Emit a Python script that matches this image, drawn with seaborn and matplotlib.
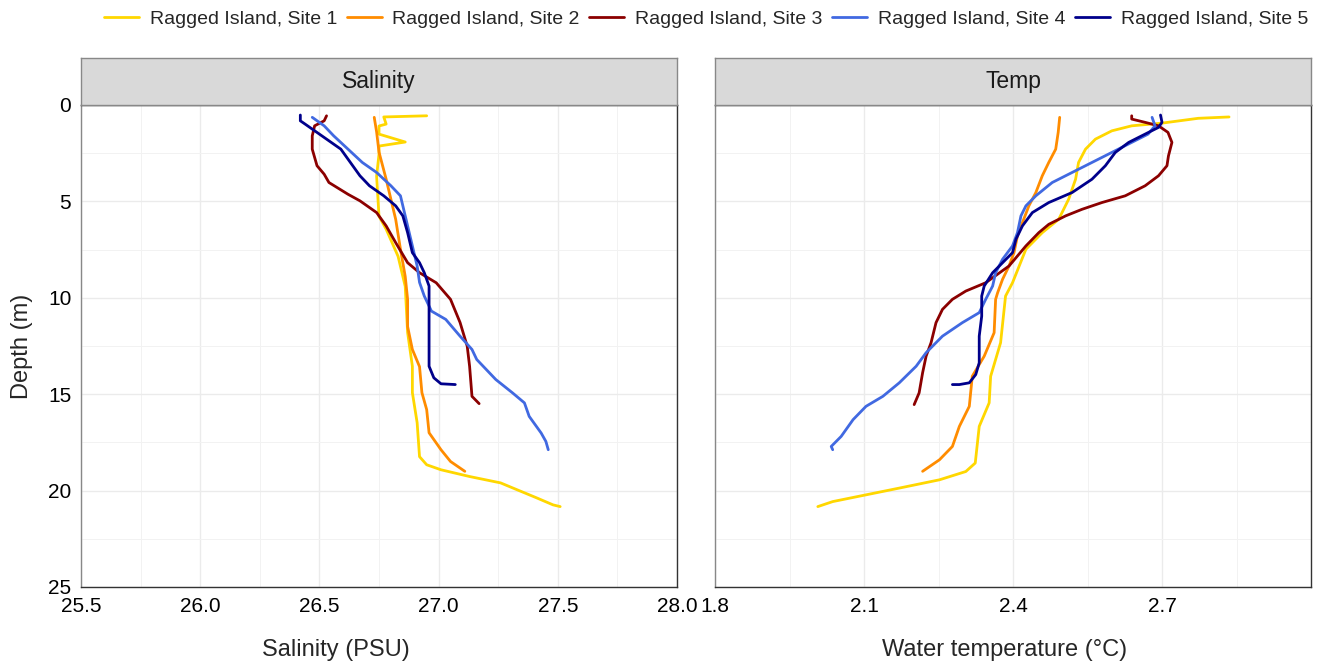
"""
CTD profiles, Ragged Island: salinity and water temperature against depth
"""

import matplotlib.pyplot as plt
import pandas as pd
import seaborn as sns

SITES = [f"Ragged Island, Site {k}" for k in range(1, 6)]
COLOURS = ["#FFD700", "#FF8C00", "#8B0000", "#4169E1", "#00008B"]

# salinity profiles (depth in m, salinity in PSU)
sal_depth_1 = [0.56, 0.62, 0.99, 1.09, 1.51, 1.92, 2.13, 2.55, 3.69, 5.77, 6.44, 7.85,
               9.41, 11.8, 13.55, 14.92, 16.48, 18.24, 18.66, 18.92, 19.27, 19.6,
               19.96, 20.37, 20.74, 20.83]
sal_1 = [26.95, 26.77, 26.78, 26.75, 26.75, 26.86, 26.75, 26.75, 26.74, 26.75, 26.78,
         26.83, 26.86, 26.87, 26.89, 26.89, 26.91, 26.92, 26.95, 27.01, 27.13, 27.26,
         27.33, 27.41, 27.48, 27.51]
sal_depth_2 = [0.64, 1.4, 2.44, 3.85, 4.89, 5.93, 7.48, 8.89, 10.08, 11.49, 12.68,
               13.57, 14.92, 15.8, 17.0, 17.88, 18.49, 19.0]
sal_2 = [26.73, 26.74, 26.75, 26.78, 26.8, 26.82, 26.84, 26.86, 26.87, 26.87, 26.89,
         26.92, 26.93, 26.95, 26.96, 27.01, 27.05, 27.11]
sal_depth_3 = [0.56, 0.82, 1.08, 1.6, 2.29, 3.15, 3.59, 4.02, 4.63, 4.97, 5.58, 6.27,
               7.14, 8.18, 8.7, 9.22, 10.08, 11.28, 12.51, 13.55, 15.11, 15.49]
sal_3 = [26.53, 26.52, 26.48, 26.47, 26.47, 26.49, 26.52, 26.54, 26.62, 26.67, 26.74,
         26.78, 26.82, 26.87, 26.92, 26.99, 27.05, 27.09, 27.12, 27.13, 27.14, 27.17]
sal_depth_4 = [0.64, 1.08, 1.6, 2.29, 2.98, 3.5, 4.19, 4.71, 5.23, 6.27, 7.31, 8.35,
               9.2, 9.91, 10.69, 11.12, 11.99, 12.68, 13.2, 14.24, 14.93, 15.45, 16.15,
               17.01, 17.45, 17.88]
sal_4 = [26.47, 26.52, 26.56, 26.62, 26.68, 26.74, 26.8, 26.84, 26.85, 26.87, 26.89,
         26.91, 26.92, 26.94, 26.97, 27.03, 27.09, 27.14, 27.16, 27.24, 27.31, 27.36,
         27.38, 27.43, 27.45, 27.46]
sal_depth_5 = [0.52, 0.82, 0.99, 1.25, 1.77, 2.29, 2.98, 3.67, 4.19, 4.71, 5.23, 5.75,
               6.62, 7.66, 8.18, 8.7, 9.39, 10.6, 11.81, 13.55, 14.15, 14.46, 14.5]
sal_5 = [26.42, 26.42, 26.44, 26.47, 26.53, 26.59, 26.63, 26.67, 26.71, 26.77, 26.82,
         26.85, 26.87, 26.89, 26.92, 26.94, 26.96, 26.96, 26.96, 26.96, 26.98, 27.01,
         27.07]

# temperature profiles (depth in m, temperature in degrees C)
tmp_depth_1 = [0.62, 0.69, 0.94, 1.08, 1.34, 1.77, 2.29, 2.98, 3.85, 4.89, 5.93, 6.62,
               7.48, 9.22, 9.91, 12.33, 14.07, 15.45, 16.67, 18.57, 19.01, 19.44, 19.87,
               20.22, 20.57, 20.83]
tmp_1 = [2.835, 2.773, 2.7, 2.639, 2.599, 2.566, 2.546, 2.532, 2.526, 2.512, 2.492,
         2.459, 2.426, 2.399, 2.385, 2.375, 2.355, 2.352, 2.332, 2.324, 2.305, 2.252,
         2.171, 2.104, 2.037, 2.007]
tmp_depth_2 = [0.64, 1.42, 2.29, 2.98, 3.67, 4.54, 5.23, 6.1, 6.79, 7.66, 8.35, 9.04,
               9.74, 10.08, 11.81, 13.03, 14.07, 15.63, 16.67, 17.71, 18.4, 19.0]
tmp_2 = [2.494, 2.491, 2.486, 2.472, 2.459, 2.446, 2.432, 2.419, 2.409, 2.402, 2.392,
         2.379, 2.369, 2.365, 2.362, 2.342, 2.318, 2.312, 2.292, 2.278, 2.252, 2.218]
tmp_depth_3 = [0.56, 0.73, 0.9, 1.08, 1.42, 1.94, 2.64, 3.15, 3.67, 4.19, 4.71, 5.06,
               5.41, 5.75, 6.19, 6.62, 7.31, 8.35, 9.22, 9.65, 10.08, 10.6, 11.29,
               12.33, 13.03, 13.89, 14.93, 15.54]
tmp_3 = [2.639, 2.639, 2.666, 2.693, 2.712, 2.72, 2.713, 2.71, 2.693, 2.666, 2.626,
         2.579, 2.539, 2.506, 2.472, 2.452, 2.426, 2.392, 2.345, 2.305, 2.278, 2.258,
         2.245, 2.235, 2.225, 2.218, 2.211, 2.201]
tmp_depth_4 = [0.64, 1.08, 1.51, 1.94, 2.46, 2.98, 3.5, 4.02, 4.71, 5.23, 5.75, 6.62,
               7.31, 8.0, 8.7, 9.39, 10.08, 10.77, 11.29, 11.99, 12.85, 13.55, 14.41,
               15.11, 15.63, 16.32, 17.19, 17.45, 17.71, 17.88]
tmp_4 = [2.68, 2.686, 2.672, 2.639, 2.599, 2.559, 2.519, 2.479, 2.446, 2.426, 2.416,
         2.409, 2.399, 2.379, 2.365, 2.359, 2.345, 2.332, 2.298, 2.258, 2.225, 2.205,
         2.171, 2.138, 2.104, 2.078, 2.054, 2.044, 2.034, 2.037]
tmp_depth_5 = [0.52, 0.9, 1.16, 1.51, 1.94, 2.46, 3.15, 3.85, 4.54, 5.06, 5.58, 6.27,
               6.96, 7.66, 8.18, 8.7, 9.39, 9.91, 10.95, 11.99, 13.37, 13.98, 14.41,
               14.5, 14.5]
tmp_5 = [2.697, 2.7, 2.693, 2.666, 2.633, 2.606, 2.586, 2.559, 2.519, 2.472, 2.439,
         2.419, 2.406, 2.399, 2.379, 2.359, 2.342, 2.337, 2.337, 2.332, 2.332, 2.325,
         2.312, 2.292, 2.278]

sal_depths = [sal_depth_1, sal_depth_2, sal_depth_3, sal_depth_4, sal_depth_5]
sal_values = [sal_1, sal_2, sal_3, sal_4, sal_5]
tmp_depths = [tmp_depth_1, tmp_depth_2, tmp_depth_3, tmp_depth_4, tmp_depth_5]
tmp_values = [tmp_1, tmp_2, tmp_3, tmp_4, tmp_5]


def long_frame(depths, values):
    frames = []
    for site, d, v in zip(SITES, depths, values):
        frames.append(pd.DataFrame({"site": site, "depth": d, "value": v}))
    return pd.concat(frames, ignore_index=True)


sal_df = long_frame(sal_depths, sal_values)
tmp_df = long_frame(tmp_depths, tmp_values)

sns.set_style("white")
plt.rcParams["font.family"] = ["Liberation Sans", "DejaVu Sans"]

fig = plt.figure(figsize=(13.2, 6.64), dpi=100)
W, H = 1320, 664
panel_top, panel_bottom = 105, 587
panels = [(81, 677), (715, 1311)]
axes = []
for x0, x1 in panels:
    axes.append(
        fig.add_axes([x0 / W, 1 - panel_bottom / H, (x1 - x0) / W,
                      (panel_bottom - panel_top) / H])
    )

palette = dict(zip(SITES, COLOURS))
for ax, df in zip(axes, [sal_df, tmp_df]):
    sns.lineplot(
        data=df, x="value", y="depth", hue="site", palette=palette,
        hue_order=SITES, sort=False, estimator=None, units="site",
        linewidth=2.0, ax=ax, legend=False,
    )

ax_s, ax_t = axes
ax_s.set_xlim(25.5, 28.0)
ax_s.set_xticks([25.5, 26.0, 26.5, 27.0, 27.5, 28.0])
ax_s.set_xticks([25.75, 26.25, 26.75, 27.25, 27.75], minor=True)
ax_s.set_xticklabels(["25.5", "26.0", "26.5", "27.0", "27.5", "28.0"])
ax_t.set_xlim(1.8, 3.0)
ax_t.set_xticks([1.8, 2.1, 2.4, 2.7])
ax_t.set_xticks([1.95, 2.25, 2.55, 2.85], minor=True)
ax_t.set_xticklabels(["1.8", "2.1", "2.4", "2.7"])

for ax in axes:
    ax.set_ylim(25, 0)
    ax.set_yticks([0, 5, 10, 15, 20, 25])
    ax.set_yticks([2.5, 7.5, 12.5, 17.5, 22.5], minor=True)
    ax.grid(True, which="major", color="#EBEBEB", linewidth=1.0)
    ax.grid(True, which="minor", color="#F2F2F2", linewidth=0.7)
    ax.set_axisbelow(True)
    ax.set_xlabel("")
    ax.set_ylabel("")
    ax.tick_params(which="major", length=4, width=1, color="#888888",
                   labelsize=15, labelcolor="black", pad=3)
    ax.tick_params(which="minor", length=0)
    for sp in ax.spines.values():
        sp.set_visible(True)
        sp.set_linewidth(1)
        sp.set_color("#333333")
    ax.spines["left"].set_color("#888888")

ax_t.tick_params(axis="y", left=False, labelleft=False)

# facet strips
for (x0, x1), label in zip(panels, ["Salinity", "Temp"]):
    strip = fig.add_axes([x0 / W, 1 - panel_top / H, (x1 - x0) / W, 47 / H])
    strip.set_facecolor("#D9D9D9")
    strip.set_xticks([])
    strip.set_yticks([])
    for sp in strip.spines.values():
        sp.set_color("#888888")
        sp.set_linewidth(1)
    strip.text(0.5, 0.5, label, ha="center", va="center", fontsize=16.5,
               color="#1A1A1A", transform=strip.transAxes)

fig.text(336 / W, 1 - 650 / H, "Salinity (PSU)", ha="center", va="center",
         fontsize=17)
fig.text(1005 / W, 1 - 650 / H, "Water temperature (\u00b0C)", ha="center",
         va="center", fontsize=17)
fig.text(22 / W, 1 - 346 / H, "Depth (m)", ha="center", va="center",
         rotation=90, fontsize=17)

handles = [plt.Line2D([], [], color=c, linewidth=2.0) for c in COLOURS]
fig.legend(
    handles, SITES, loc="center", bbox_to_anchor=(706 / W, 1 - 19 / H), ncol=5,
    frameon=False, fontsize=14, handlelength=1.8, handletextpad=0.55,
    columnspacing=0.5, borderpad=0.1,
)

fig.savefig("out.png", dpi=100)
